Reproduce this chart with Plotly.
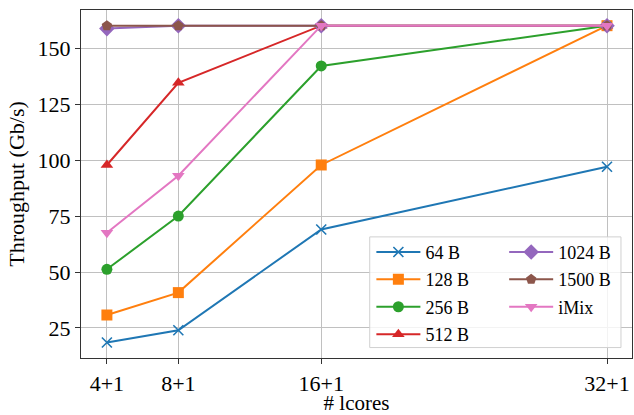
import plotly.graph_objects as go

x_vals = [4, 8, 16, 32]
x_labels = ["4+1", "8+1", "16+1", "32+1"]

s64 = [18.5, 24, 69, 97]
s128 = [30.8, 40.8, 97.8, 160]
s256 = [51.2, 75, 142, 160]
s512 = [97.8, 134.5, 160, 160]
s1024 = [158.7, 160, 160, 160]
s1500 = [160, 160, 160, 160]
simix = [67.5, 93, 160, 160]

series = [
    ("64 B", s64, "#1f77b4", "x-thin", "legend"),
    ("128 B", s128, "#ff7f0e", "square", "legend"),
    ("256 B", s256, "#2ca02c", "circle", "legend"),
    ("512 B", s512, "#d62728", "triangle-up", "legend"),
    ("1024 B", s1024, "#9467bd", "diamond", "legend2"),
    ("1500 B", s1500, "#8c564b", "pentagon", "legend2"),
    ("iMix", simix, "#e377c2", "triangle-down", "legend2"),
]

font_family = "Liberation Serif"

fig = go.Figure()
for name, ys, color, sym, leg in series:
    if sym == "x-thin":
        marker = dict(symbol=sym, size=10, color=color, line=dict(color=color, width=1.6))
    elif sym == "diamond":
        marker = dict(symbol=sym, size=12, color=color, line=dict(width=0))
    else:
        marker = dict(symbol=sym, size=11, color=color, line=dict(width=0))
    fig.add_trace(go.Scatter(
        x=x_vals, y=ys, name=name, mode="lines+markers", legendgroup=name,
        line=dict(color=color, width=2), marker=marker, legend=leg,
    ))

fig.update_layout(
    width=634, height=415,
    margin=dict(l=81, r=2, t=10, b=57),
    plot_bgcolor="white", paper_bgcolor="white",
    font=dict(family=font_family, size=22, color="black"),
    xaxis=dict(
        range=[2.55, 33.4], tickmode="array", tickvals=x_vals, ticktext=x_labels,
        showgrid=True, gridcolor="#c0c0c0", gridwidth=1,
        showline=True, linecolor="#333333", linewidth=1.2, mirror=True,
        ticks="outside", ticklen=5, tickcolor="#333333", zeroline=False,
        title=dict(text="# lcores", standoff=0, font=dict(size=21)),
    ),
    yaxis=dict(
        range=[11.6, 167], tickvals=[25, 50, 75, 100, 125, 150],
        showgrid=True, gridcolor="#c0c0c0", gridwidth=1,
        showline=True, linecolor="#333333", linewidth=1.2, mirror=True,
        ticks="outside", ticklen=5, tickcolor="#333333", zeroline=False,
        title=dict(text="Throughput (Gb/s)", standoff=6, font=dict(size=22)),
    ),
    legend=dict(
        x=0.527, y=0.357, xanchor="left", yanchor="top", itemwidth=44,
        bgcolor="rgba(0,0,0,0)", font=dict(size=18), tracegroupgap=1,
    ),
    legend2=dict(
        x=0.768, y=0.357, xanchor="left", yanchor="top", itemwidth=44,
        bgcolor="rgba(0,0,0,0)", font=dict(size=18), tracegroupgap=1,
    ),
    shapes=[dict(
        type="rect", xref="paper", yref="paper",
        x0=0.524, x1=0.980, y0=0.030, y1=0.348,
        fillcolor="rgba(255,255,255,0.8)", line=dict(color="#d0d0d0", width=1),
        layer="above",
    )],
)

fig.write_html("out.html", config={"displayModeBar": False},
               post_script="document.body.style.margin='0';")
